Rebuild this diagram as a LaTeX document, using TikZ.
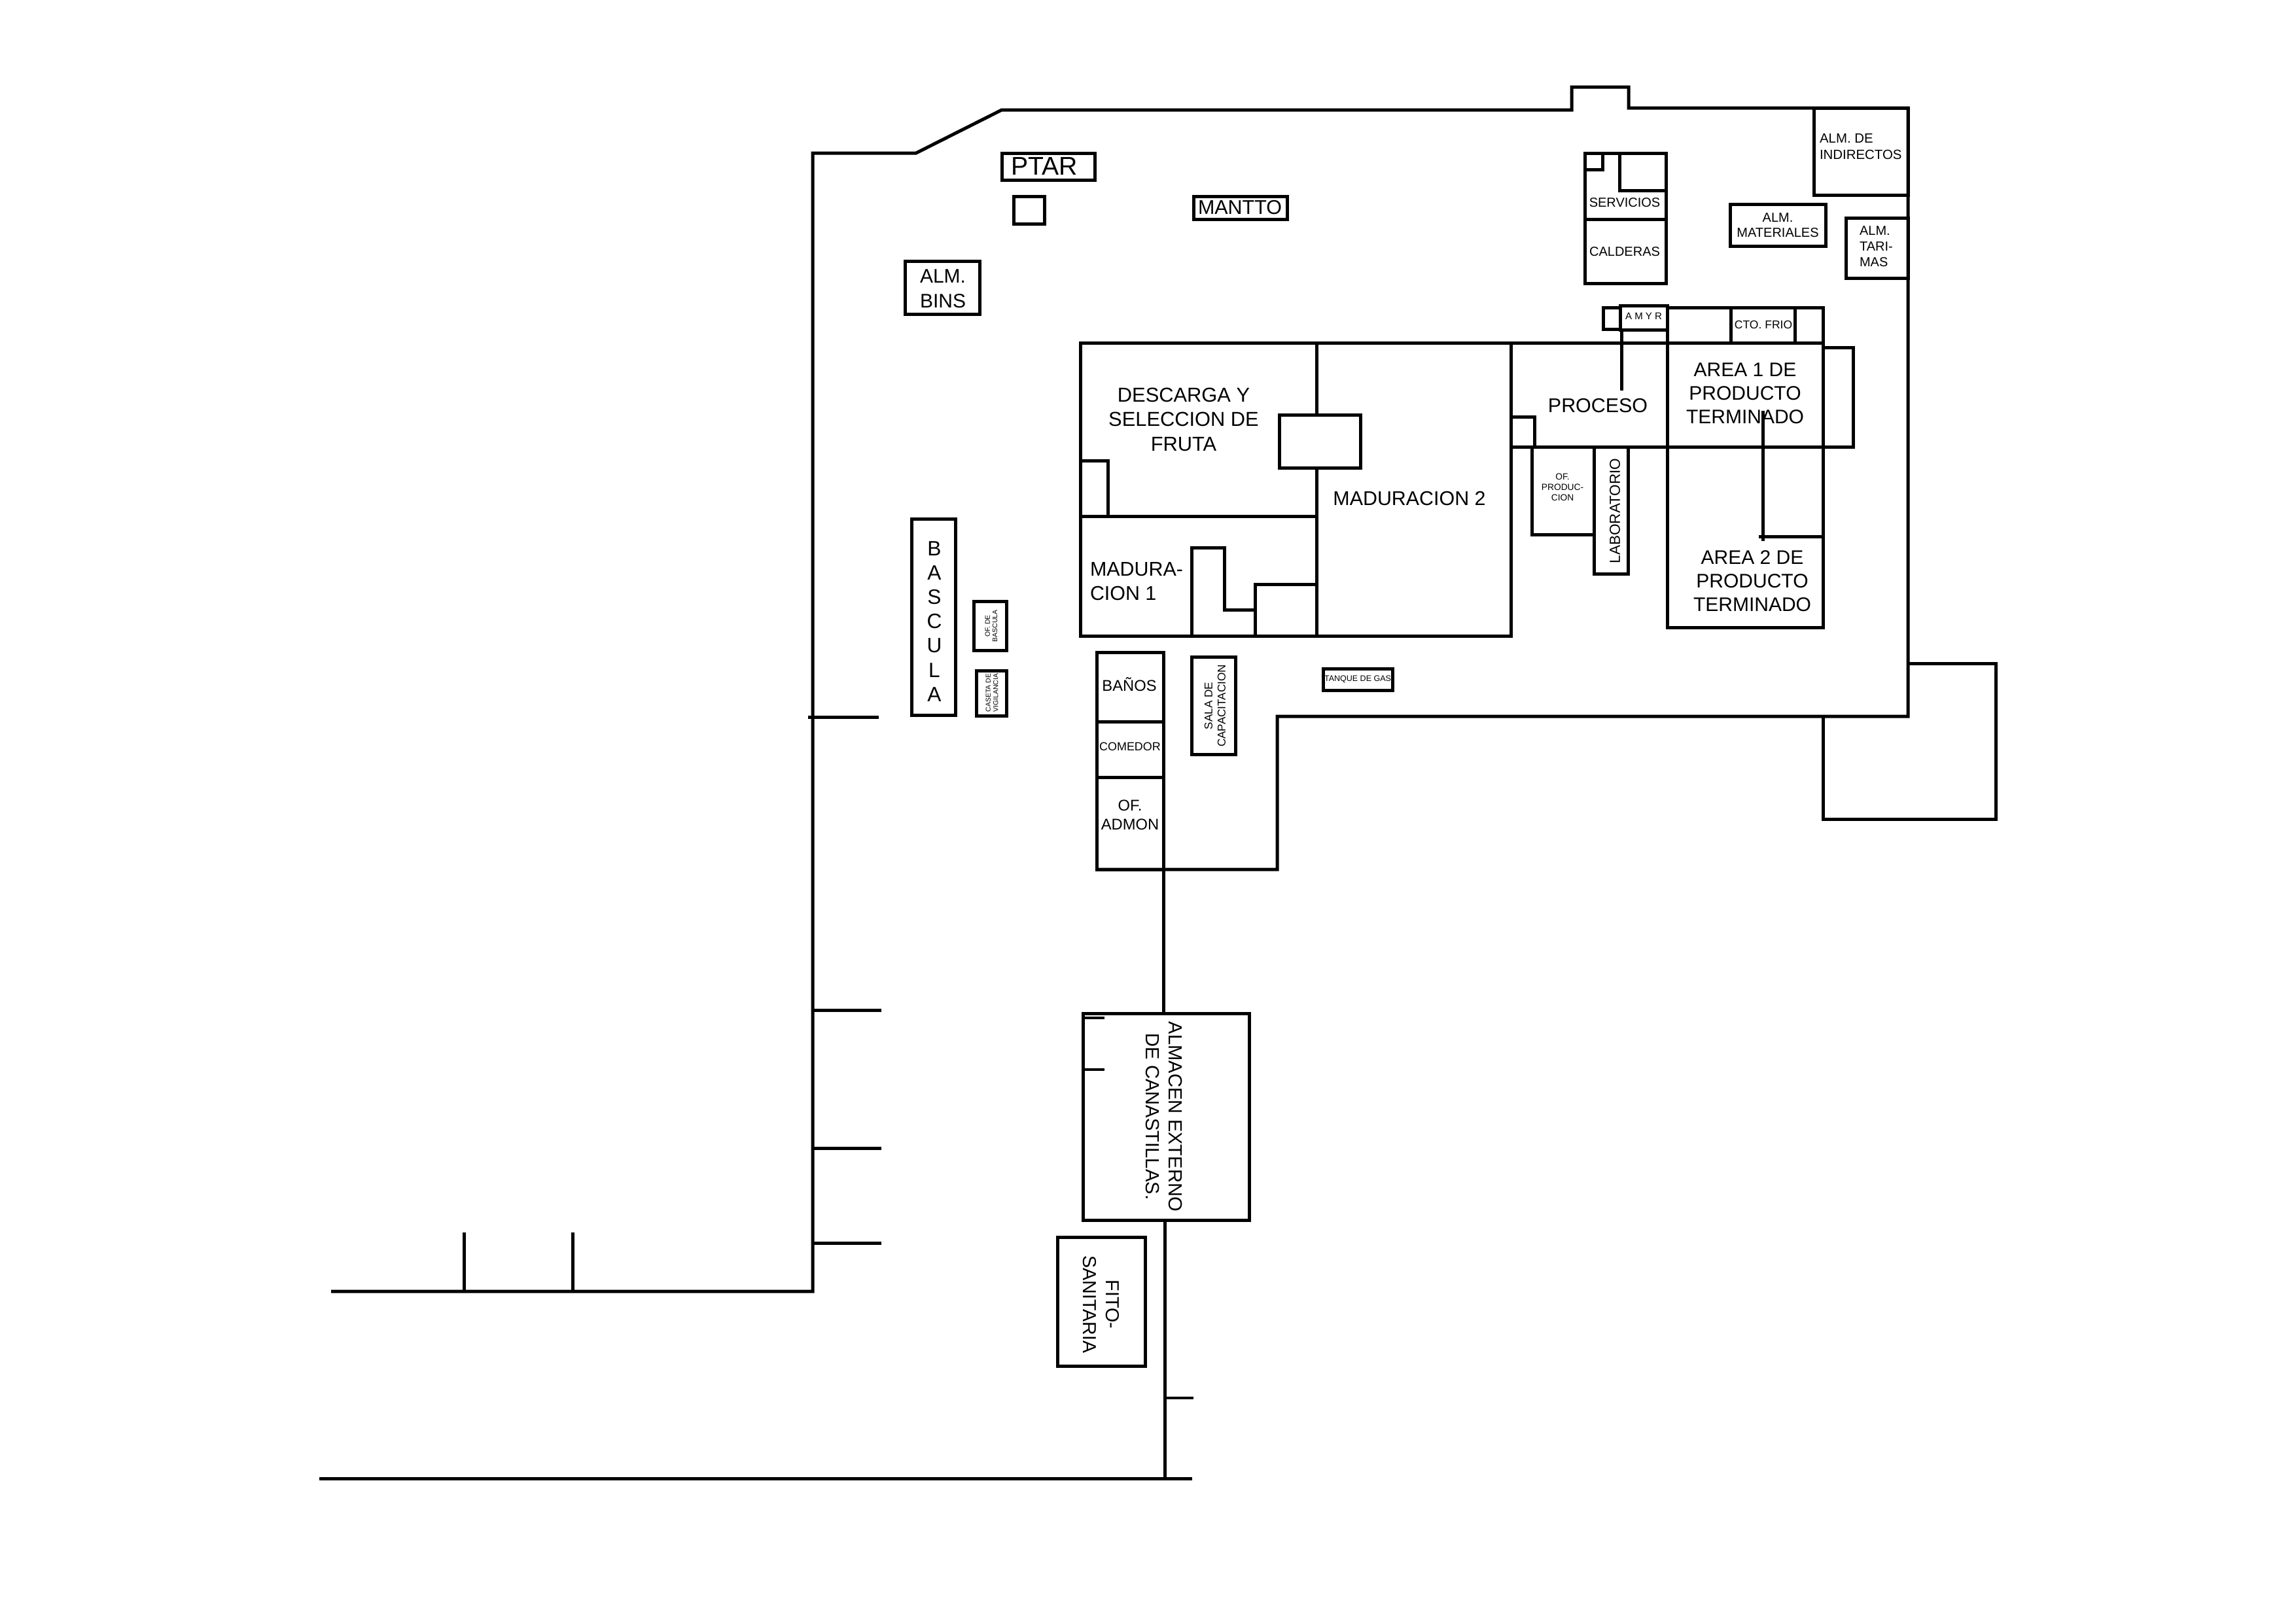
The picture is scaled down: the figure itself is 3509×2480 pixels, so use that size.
\documentclass[tikz,border=0pt]{standalone}
\usepackage{fontspec}
\setmainfont{Liberation Sans}
\newcommand{\fsz}[2]{\fontsize{#1}{#2}\selectfont}
\tikzset{
  wall/.style={line width=1.2pt,line cap=square,line join=miter,draw=black},
  thinwall/.style={line width=0.85pt,line cap=butt,draw=black},
  lbl/.style={inner sep=0pt,outer sep=0pt,align=center,text=black,font=\fsz{7.3}{8.6}},
  lblleft/.style={lbl,align=left}
}
\begin{document}
\begin{tikzpicture}[x=0.24pt,y=-0.24pt]
\useasboundingbox (0,0) rectangle (3509,2480);
% outer walls
\draw[wall] (506,1974) -- (1242,1974) -- (1242,234) -- (1400,234) -- (1531,168) -- (2402,168) -- (2402,133) -- (2489,133) -- (2489,165) -- (2916,165) -- (2916,1095) -- (1952,1095) -- (1952,1329) -- (1676,1329);
\draw[wall] (2916,1014) -- (3050,1014) -- (3050,1252) -- (2786,1252) -- (2786,1095);
\draw[wall] (709,1974) -- (709,1884);
\draw[wall] (875,1974) -- (875,1884);
\draw[wall] (1235,1096) -- (1343,1096);
\draw[wall] (1242,1544) -- (1347,1544);
\draw[wall] (1242,1755) -- (1347,1755);
\draw[wall] (1242,1900) -- (1347,1900);
\draw[wall] (488,2260) -- (1822,2260);
\draw[wall] (1778,1329) -- (1778,1548);
\draw[wall] (1780,1865) -- (1780,2260);
\draw[thinwall] (1780,2137) -- (1824,2137);
% top left blocks
\draw[wall] (1531,234) rectangle (1673,275);
\draw[wall] (1549,300) rectangle (1596,342);
\draw[wall] (1824,300) rectangle (1967,335);
\draw[wall] (1383,399) rectangle (1497,480);
% services
\draw[wall] (2422,234) rectangle (2546,433);
\draw[wall] (2422,335) -- (2546,335);
\draw[wall] (2422,259) -- (2449,259) -- (2449,234);
\draw[wall] (2475,234) -- (2475,291) -- (2546,291);
\draw[wall] (2772,165) rectangle (2916,298);
\draw[wall] (2644,312) rectangle (2790,376);
\draw[wall] (2821,333) rectangle (2916,425);
% cold strip
\draw[wall] (2450,470) rectangle (2476,503);
\draw[wall] (2476,467) rectangle (2548,504);
\draw[wall] (2548,470) -- (2786,470) -- (2786,959) -- (2548,959) -- (2548,504);
\draw[wall] (2645,470) -- (2645,524);
\draw[wall] (2743,470) -- (2743,524);
\draw[wall] (2478,504) -- (2478,597);
% main building
\draw[wall] (1651,524) -- (2786,524);
\draw[wall] (1651,524) rectangle (2309,972);
\draw[wall] (2012,524) -- (2012,634);
\draw[wall] (2012,715) -- (2012,972);
\draw[wall] (1955,634) rectangle (2079,715);
\draw[wall] (1651,789) -- (2012,789);
\draw[wall] (1651,704) -- (1693,704) -- (1693,789);
\draw[wall] (1821,972) -- (1821,837) -- (1871,837) -- (1871,932) -- (1918,932);
\draw[wall] (1918,972) -- (1918,893) -- (2012,893);
% process side
\draw[wall] (2309,683) -- (2832,683) -- (2832,531) -- (2786,531);
\draw[wall] (2309,637) -- (2345,637) -- (2345,683);
\draw[wall] (2341,683) -- (2341,817) -- (2436,817);
\draw[wall] (2436,683) rectangle (2488,877);
\draw[wall] (2694,628) -- (2694,827);
\draw[wall] (2688,820) -- (2786,820);
% bascula etc.
\draw[wall] (1393,793) rectangle (1460,1093);
\draw[wall] (1488,919) rectangle (1538,994);
\draw[wall] (1492,1025) rectangle (1538,1094);
\draw[wall] (1676,997) rectangle (1778,1329);
\draw[wall] (1676,1103) -- (1778,1103);
\draw[wall] (1676,1188) -- (1778,1188);
\draw[wall] (1821,1004) rectangle (1888,1153);
\draw[wall] (2022,1022) rectangle (2128,1055);
% external stores
\draw[wall] (1655,1549) rectangle (1909,1865);
\draw[thinwall] (1655,1556) -- (1688,1556);
\draw[thinwall] (1655,1635) -- (1688,1635);
\draw[wall] (1616,1891) rectangle (1750,2088);
% labels
\node[lbl,font=\fsz{9.4}{11}] (ptar) at (1596,254) {PTAR};
\node[lbl] (mantto) at (1895,317) {MANTTO};
\node[lbl,font=\fsz{7.2}{9.1}] (bins) at (1441,441) {ALM.\\BINS};
\node[lblleft,anchor=west,font=\fsz{4.9}{6}] (indirectos) at (2781,224) {ALM. DE\\INDIRECTOS};
\node[lbl,font=\fsz{4.8}{6}] (servicios) at (2483,310) {SERVICIOS};
\node[lbl,font=\fsz{4.8}{6}] (calderas) at (2483,385) {CALDERAS};
\node[lbl,font=\fsz{4.8}{5.6}] (materiales) at (2717,344) {ALM.\hspace{4.3pt}\\MATERIALES};
\node[lblleft,anchor=west,font=\fsz{4.8}{5.8}] (tarimas) at (2842,377) {ALM.\\TARI-\\MAS};
\node[lbl,font=\fsz{3.6}{4}] (amyr) at (2512,483) {A M Y R};
\node[lbl,font=\fsz{4.2}{5}] (frio) at (2695,496) {CTO. FRIO};
\node[lbl] (proceso) at (2442,620) {PROCESO};
\node[lbl,font=\fsz{7.2}{8.6}] (area1) at (2667,601) {AREA 1 DE\\PRODUCTO\\TERMINADO};
\node[lbl,font=\fsz{7.2}{8.6}] (area2) at (2678,888) {AREA 2 DE\\PRODUCTO\\TERMINADO};
\node[lbl,rotate=90,font=\fsz{5.4}{6.5}] (lab) at (2468,781) {LABORATORIO};
\node[lbl,font=\fsz{3.3}{3.9}] (ofprod) at (2388,745) {OF.\\PRODUC-\\CION};
\node[lbl,font=\fsz{7.4}{9}] (descarga) at (1809,641) {DESCARGA Y\\SELECCION DE\\FRUTA};
\node[lbl] (mad2) at (2154,762) {MADURACION 2};
\node[lblleft,anchor=west,font=\fsz{7.3}{8.9}] (mad1) at (1666,889) {MADURA-\\CION 1};
\node[lbl,font=\fsz{7.6}{8.9}] (bascula) at (1428,950) {B\\A\\S\\C\\U\\L\\A};
\node[lbl,rotate=90,font=\fsz{2.5}{2.7}] (ofbascula) at (1515,957) {OF. DE\\BASCULA};
\node[lbl,rotate=90,font=\fsz{2.5}{2.8}] (caseta) at (1516,1059) {CASETA DE\\VIGILANCIA};
\node[lbl,font=\fsz{5.7}{7}] (banos) at (1726,1046) {BAÑOS};
\node[lbl,font=\fsz{4.3}{5}] (comedor) at (1727,1141) {COMEDOR};
\node[lbl,font=\fsz{5.7}{7}] (admon) at (1727,1246) {OF.\\ADMON};
\node[lbl,rotate=90,font=\fsz{4.1}{4.8}] (sala) at (1857,1079) {SALA DE\\CAPACITACION};
\node[lbl,font=\fsz{3}{3.6}] (tanque) at (2075,1038) {TANQUE DE GAS};
\node[lbl,rotate=-90,font=\fsz{7}{8.6}] (almacen) at (1779,1707) {ALMACEN EXTERNO\\DE CANASTILLAS.};
\node[lbl,rotate=-90,font=\fsz{6.9}{8.4}] (fito) at (1683,1994) {FITO-\\SANITARIA};
\end{tikzpicture}
\end{document}
